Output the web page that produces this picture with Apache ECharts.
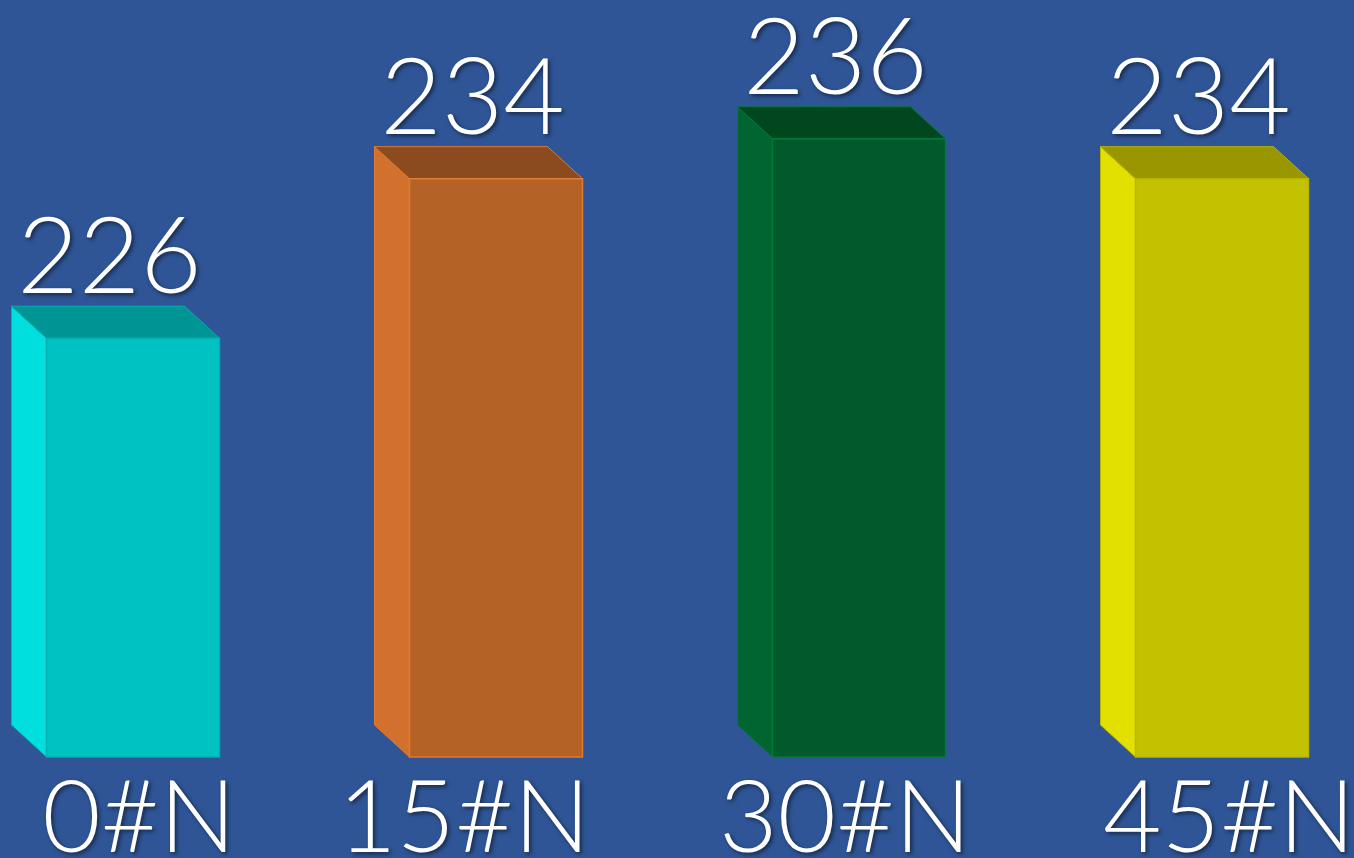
<!DOCTYPE html>
<html>
<head>
<meta charset="utf-8">
<script src="https://cdn.jsdelivr.net/npm/echarts@6/dist/echarts.min.js"></script>
<style>
html,body{margin:0;padding:0;background:#2F5597;}
#c{width:1354px;height:858px;}
</style>
</head>
<body>
<div id="c"></div>
<script>
var categories = ['0#N', '15#N', '30#N', '45#N'];
var values = [226, 234, 236, 234];
var frontColors = ['#00C2C2', '#B56226', '#005A2B', '#C4C100'];
var sideColors = ['#00DEDE', '#D2702E', '#006530', '#E2E000'];
var topColors = ['#009595', '#8B4B1E', '#00461F', '#999600'];
var edgeColors = ['#00B0B0', '#E07B30', '#007A3A', '#B8B500'];
var labelShift = [6, -32, -14, 7];

var chart = echarts.init(document.getElementById('c'), null, {renderer: 'canvas'});
var FONT = 'Lato, "Open Sans", sans-serif';
var shadow = {textShadowColor: 'rgba(0,0,0,0.55)', textShadowBlur: 4, textShadowOffsetX: 2, textShadowOffsetY: 2};

var rich = {};
categories.forEach(function (c, i) {
  var s = labelShift[i];
  rich['l' + i] = Object.assign({
    color: '#fff', fontSize: 101, fontFamily: FONT, fontWeight: 300,
    lineHeight: 101,
    padding: s < 0 ? [0, -2 * s, 0, 0] : [0, 0, 0, 2 * s]
  }, shadow);
});

var option = {
  backgroundColor: '#2F5597',
  animation: false,
  grid: {left: 133, right: 132, top: 59, bottom: 101, outerBoundsMode: 'none', containLabel: false},
  xAxis: {
    type: 'category', data: categories, boundaryGap: false,
    axisLine: {show: false}, axisTick: {show: false}, splitLine: {show: false},
    axisLabel: {
      margin: 12,
      formatter: function (v, i) { return '{l' + i + '|' + v + '}'; },
      rich: rich
    }
  },
  yAxis: {type: 'value', min: 205, max: 240, show: false, splitLine: {show: false}},
  series: [{
    type: 'custom',
    data: values.map(function (v, i) { return [i, v]; }),
    renderItem: function (params, api) {
      var i = api.value(0);
      var top = api.coord([i, api.value(1)]);
      var base = api.coord([i, 205]);
      var w = 173, dx = -35, dy = -32;
      var x0 = top[0] - w / 2, x1 = top[0] + w / 2;
      var yt = top[1], yb = base[1];
      return {
        type: 'group',
        children: [
          {type: 'polygon', shape: {points: [[x0, yt], [x0 + dx, yt + dy], [x0 + dx, yb + dy], [x0, yb]]},
            style: {fill: sideColors[i], stroke: edgeColors[i], lineWidth: 1}},
          {type: 'polygon', shape: {points: [[x0, yt], [x0 + dx, yt + dy], [x1 + dx, yt + dy], [x1, yt]]},
            style: {fill: topColors[i], stroke: edgeColors[i], lineWidth: 1}},
          {type: 'rect', shape: {x: x0, y: yt, width: w, height: yb - yt},
            style: {fill: frontColors[i], stroke: edgeColors[i], lineWidth: 1.5}},
          {type: 'text', x: top[0] + dx / 2 - 6, y: yt + dy + 6,
            style: Object.assign({text: String(api.value(1)), fill: '#fff', fontSize: 106,
              fontFamily: FONT, fontWeight: 300, align: 'center', verticalAlign: 'bottom'}, shadow)}
        ]
      };
    }
  }]
};
chart.setOption(option);
</script>
</body>
</html>
